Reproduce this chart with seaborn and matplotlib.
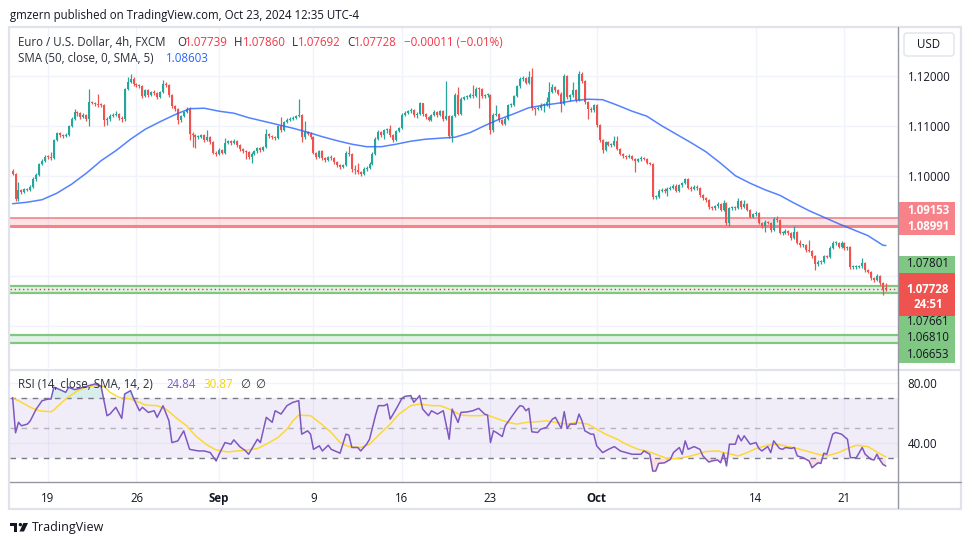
import numpy as np
import matplotlib
matplotlib.use("Agg")
import matplotlib.pyplot as plt
from matplotlib.patches import Rectangle, FancyBboxPatch, Polygon, Circle
import seaborn as sns

W, H = 970, 545

### EUR/USD 4h candles (FXCM), one per candle ###
first_open = 1.1010
closes = [
    1.1004, 1.0954, 1.0971, 1.0968, 1.0973, 1.0972, 1.0978, 1.0993, 1.1002, 1.1024,
    1.1030, 1.1038, 1.1037, 1.1035, 1.1072, 1.1085, 1.1081, 1.1079, 1.1082, 1.1099,
    1.1114, 1.1127, 1.1125, 1.1117, 1.1122, 1.1114, 1.1147, 1.1146, 1.1144, 1.1142,
    1.1141, 1.1111, 1.1113, 1.1120, 1.1122, 1.1124, 1.1116, 1.1113, 1.1174, 1.1187,
    1.1194, 1.1184, 1.1181, 1.1179, 1.1159, 1.1171, 1.1161, 1.1167, 1.1166, 1.1157,
    1.1167, 1.1184, 1.1181, 1.1161, 1.1139, 1.1133, 1.1111, 1.1119, 1.1127, 1.1134,
    1.1084, 1.1081, 1.1077, 1.1078, 1.1081, 1.1071, 1.1078, 1.1067, 1.1046, 1.1044,
    1.1052, 1.1046, 1.1066, 1.1069, 1.1066, 1.1069, 1.1061, 1.1054, 1.1049, 1.1047,
    1.1037, 1.1044, 1.1049, 1.1055, 1.1051, 1.1057, 1.1084, 1.1079, 1.1077, 1.1076,
    1.1099, 1.1091, 1.1107, 1.1112, 1.1114, 1.1116, 1.1119, 1.1121, 1.1077, 1.1087,
    1.1084, 1.1077, 1.1046, 1.1037, 1.1049, 1.1035, 1.1031, 1.1037, 1.1035, 1.1027,
    1.1021, 1.1017, 1.1021, 1.1046, 1.1044, 1.1014, 1.1011, 1.1007, 1.1004, 1.1014,
    1.1016, 1.1024, 1.1044, 1.1074, 1.1087, 1.1081, 1.1091, 1.1093, 1.1081, 1.1071,
    1.1089, 1.1095, 1.1122, 1.1126, 1.1129, 1.1132, 1.1122, 1.1124, 1.1145, 1.1124,
    1.1117, 1.1112, 1.1121, 1.1127, 1.1121, 1.1129, 1.1114, 1.1119, 1.1079, 1.1119,
    1.1162, 1.1124, 1.1154, 1.1157, 1.1157, 1.1162, 1.1159, 1.1174, 1.1173, 1.1159,
    1.1161, 1.1162, 1.1091, 1.1122, 1.1124, 1.1111, 1.1104, 1.1114, 1.1141, 1.1142,
    1.1159, 1.1179, 1.1194, 1.1195, 1.1186, 1.1197, 1.1135, 1.1134, 1.1135, 1.1142,
    1.1142, 1.1148, 1.1167, 1.1177, 1.1171, 1.1164, 1.1144, 1.1200, 1.1157, 1.1161,
    1.1171, 1.1151, 1.1204, 1.1189, 1.1147, 1.1134, 1.1131, 1.1141, 1.1101, 1.1071,
    1.1051, 1.1067, 1.1062, 1.1062, 1.1070, 1.1054, 1.1044, 1.1039, 1.1037, 1.1040,
    1.1034, 1.1029, 1.1033, 1.1036, 1.1034, 1.1026, 1.1024, 1.0957, 1.0957, 1.0970,
    1.0972, 1.0969, 1.0974, 1.0976, 1.0980, 1.0970, 1.0981, 1.0985, 1.0993, 1.0976,
    1.0973, 1.0978, 1.0975, 1.0961, 1.0955, 1.0951, 1.0937, 1.0935, 1.0939, 1.0944,
    1.0932, 1.0946, 1.0905, 1.0935, 1.0937, 1.0935, 1.0950, 1.0937, 1.0944, 1.0932,
    1.0918, 1.0923, 1.0926, 1.0906, 1.0899, 1.0908, 1.0906, 1.0891, 1.0913, 1.0911,
    1.0886, 1.0886, 1.0890, 1.0885, 1.0875, 1.0888, 1.0866, 1.0861, 1.0861, 1.0851,
    1.0850, 1.0839, 1.0823, 1.0828, 1.0828, 1.0839, 1.0838, 1.0856, 1.0866, 1.0866,
    1.0858, 1.0866, 1.0855, 1.0857, 1.0817, 1.0817, 1.0818, 1.0819, 1.0826, 1.0811,
    1.0808, 1.0795, 1.0791, 1.0800, 1.0785, 1.07739, 1.07728,
]
highs = [
    1.1013, 1.1006, 1.0987, 1.0974, 1.0976, 1.0976, 1.0981, 1.0997, 1.1005, 1.1026,
    1.1033, 1.1042, 1.1041, 1.1048, 1.1074, 1.1088, 1.1087, 1.1083, 1.1085, 1.1101,
    1.1117, 1.1133, 1.1130, 1.1127, 1.1125, 1.1124, 1.1174, 1.1150, 1.1148, 1.1164,
    1.1145, 1.1143, 1.1117, 1.1123, 1.1126, 1.1130, 1.1126, 1.1119, 1.1176, 1.1197,
    1.1203, 1.1197, 1.1186, 1.1184, 1.1181, 1.1174, 1.1173, 1.1170, 1.1172, 1.1168,
    1.1170, 1.1191, 1.1187, 1.1183, 1.1163, 1.1141, 1.1135, 1.1122, 1.1130, 1.1137,
    1.1137, 1.1088, 1.1084, 1.1081, 1.1084, 1.1083, 1.1091, 1.1080, 1.1069, 1.1049,
    1.1055, 1.1054, 1.1076, 1.1072, 1.1071, 1.1073, 1.1071, 1.1063, 1.1056, 1.1051,
    1.1049, 1.1047, 1.1052, 1.1058, 1.1058, 1.1060, 1.1094, 1.1086, 1.1081, 1.1080,
    1.1102, 1.1117, 1.1110, 1.1115, 1.1117, 1.1119, 1.1122, 1.1154, 1.1123, 1.1110,
    1.1090, 1.1087, 1.1079, 1.1048, 1.1052, 1.1051, 1.1037, 1.1040, 1.1041, 1.1037,
    1.1030, 1.1023, 1.1024, 1.1049, 1.1060, 1.1046, 1.1021, 1.1026, 1.1010, 1.1017,
    1.1020, 1.1027, 1.1047, 1.1077, 1.1091, 1.1089, 1.1094, 1.1096, 1.1101, 1.1083,
    1.1092, 1.1098, 1.1125, 1.1129, 1.1132, 1.1135, 1.1134, 1.1127, 1.1148, 1.1146,
    1.1126, 1.1119, 1.1124, 1.1131, 1.1130, 1.1132, 1.1131, 1.1189, 1.1121, 1.1122,
    1.1165, 1.1177, 1.1157, 1.1160, 1.1162, 1.1165, 1.1182, 1.1177, 1.1177, 1.1175,
    1.1164, 1.1165, 1.1164, 1.1125, 1.1141, 1.1126, 1.1114, 1.1117, 1.1144, 1.1145,
    1.1162, 1.1182, 1.1197, 1.1200, 1.1197, 1.1209, 1.1215, 1.1138, 1.1139, 1.1145,
    1.1146, 1.1158, 1.1188, 1.1184, 1.1180, 1.1174, 1.1167, 1.1203, 1.1202, 1.1164,
    1.1188, 1.1174, 1.1209, 1.1207, 1.1191, 1.1150, 1.1137, 1.1144, 1.1143, 1.1103,
    1.1074, 1.1070, 1.1069, 1.1065, 1.1080, 1.1080, 1.1056, 1.1046, 1.1041, 1.1043,
    1.1042, 1.1036, 1.1036, 1.1039, 1.1038, 1.1036, 1.1028, 1.1026, 1.0961, 1.0973,
    1.0975, 1.0975, 1.0977, 1.0979, 1.0983, 1.0983, 1.0984, 1.0988, 1.0996, 1.0995,
    1.0979, 1.0981, 1.0981, 1.0977, 1.0963, 1.0958, 1.0953, 1.0940, 1.0942, 1.0947,
    1.0946, 1.0952, 1.0948, 1.0938, 1.0940, 1.0940, 1.0955, 1.0952, 1.0951, 1.0946,
    1.0934, 1.0926, 1.0929, 1.0928, 1.0908, 1.0911, 1.0910, 1.0908, 1.0917, 1.0919,
    1.0913, 1.0890, 1.0893, 1.0892, 1.0887, 1.0899, 1.0890, 1.0871, 1.0864, 1.0863,
    1.0871, 1.0852, 1.0841, 1.0831, 1.0831, 1.0842, 1.0842, 1.0859, 1.0869, 1.0870,
    1.0868, 1.0870, 1.0868, 1.0860, 1.0859, 1.0821, 1.0821, 1.0822, 1.0836, 1.0828,
    1.0813, 1.0810, 1.0797, 1.0803, 1.0802, 1.0787, 1.07860,
]
lows = [
    1.1001, 1.0949, 1.0950, 1.0964, 1.0965, 1.0969, 1.0970, 1.0976, 1.0990, 1.1000,
    1.1022, 1.1028, 1.1034, 1.1032, 1.1034, 1.1070, 1.1078, 1.1075, 1.1077, 1.1080,
    1.1097, 1.1112, 1.1120, 1.1113, 1.1115, 1.1109, 1.1099, 1.1143, 1.1140, 1.1138,
    1.1137, 1.1100, 1.1102, 1.1110, 1.1118, 1.1119, 1.1112, 1.1108, 1.1110, 1.1172,
    1.1185, 1.1180, 1.1177, 1.1175, 1.1155, 1.1157, 1.1158, 1.1159, 1.1162, 1.1153,
    1.1155, 1.1165, 1.1177, 1.1158, 1.1136, 1.1129, 1.1104, 1.1108, 1.1117, 1.1125,
    1.1071, 1.1058, 1.1055, 1.1074, 1.1076, 1.1068, 1.1069, 1.1063, 1.1043, 1.1040,
    1.1042, 1.1043, 1.1044, 1.1063, 1.1062, 1.1064, 1.1058, 1.1050, 1.1045, 1.1034,
    1.1033, 1.1026, 1.1041, 1.1046, 1.1048, 1.1049, 1.1055, 1.1076, 1.1074, 1.1072,
    1.1074, 1.1088, 1.1089, 1.1105, 1.1110, 1.1112, 1.1114, 1.1117, 1.1067, 1.1074,
    1.1081, 1.1073, 1.1043, 1.1033, 1.1035, 1.1032, 1.1027, 1.1029, 1.1032, 1.1024,
    1.1018, 1.1014, 1.1015, 1.1019, 1.1040, 1.1008, 1.1004, 1.1003, 1.1000, 1.1002,
    1.1009, 1.1013, 1.1022, 1.1042, 1.1072, 1.1077, 1.1073, 1.1086, 1.1078, 1.1068,
    1.1070, 1.1087, 1.1093, 1.1119, 1.1123, 1.1126, 1.1118, 1.1116, 1.1122, 1.1120,
    1.1113, 1.1109, 1.1110, 1.1119, 1.1117, 1.1119, 1.1110, 1.1112, 1.1076, 1.1067,
    1.1117, 1.1121, 1.1122, 1.1151, 1.1154, 1.1155, 1.1155, 1.1157, 1.1136, 1.1155,
    1.1156, 1.1158, 1.1084, 1.1088, 1.1119, 1.1108, 1.1101, 1.1102, 1.1112, 1.1138,
    1.1139, 1.1157, 1.1176, 1.1190, 1.1183, 1.1184, 1.1132, 1.1121, 1.1131, 1.1132,
    1.1128, 1.1139, 1.1135, 1.1165, 1.1168, 1.1161, 1.1127, 1.1142, 1.1154, 1.1150,
    1.1158, 1.1148, 1.1149, 1.1186, 1.1144, 1.1114, 1.1127, 1.1128, 1.1098, 1.1068,
    1.1046, 1.1049, 1.1059, 1.1058, 1.1060, 1.1051, 1.1041, 1.1036, 1.1034, 1.1035,
    1.1031, 1.1008, 1.1027, 1.1030, 1.1031, 1.1023, 1.1021, 1.0954, 1.0953, 1.0955,
    1.0967, 1.0966, 1.0960, 1.0971, 1.0974, 1.0967, 1.0968, 1.0978, 1.0983, 1.0973,
    1.0970, 1.0971, 1.0972, 1.0958, 1.0952, 1.0948, 1.0934, 1.0932, 1.0932, 1.0936,
    1.0929, 1.0930, 1.0901, 1.0899, 1.0932, 1.0931, 1.0933, 1.0934, 1.0935, 1.0929,
    1.0915, 1.0916, 1.0920, 1.0903, 1.0896, 1.0888, 1.0903, 1.0888, 1.0889, 1.0907,
    1.0883, 1.0882, 1.0883, 1.0882, 1.0872, 1.0873, 1.0863, 1.0858, 1.0857, 1.0848,
    1.0847, 1.0836, 1.0811, 1.0820, 1.0824, 1.0826, 1.0835, 1.0836, 1.0854, 1.0862,
    1.0855, 1.0856, 1.0852, 1.0851, 1.0814, 1.0813, 1.0814, 1.0815, 1.0816, 1.0808,
    1.0805, 1.0792, 1.0788, 1.0789, 1.0782, 1.0762, 1.07692,
]

### SMA(50) line, read every 5 candles ###
sma_idx = list(range(0, 300, 5)) + [296]
sma_val = [
    1.0944, 1.0947, 1.0952, 1.0965, 1.0983, 1.1005, 1.1030, 1.1050, 1.1073, 1.1093,
    1.1108, 1.1122, 1.1134, 1.1135, 1.1129, 1.1125, 1.1116, 1.1109, 1.1102, 1.1095,
    1.1087, 1.1078, 1.1070, 1.1063, 1.1058, 1.1058, 1.1063, 1.1069, 1.1073, 1.1075,
    1.1077, 1.1086, 1.1100, 1.1113, 1.1124, 1.1136, 1.1141, 1.1145, 1.1150, 1.1153,
    1.1152, 1.1141, 1.1129, 1.1119, 1.1100, 1.1083, 1.1066, 1.1048, 1.1025, 1.1000,
    1.0985, 1.0972, 1.0961, 1.0945, 1.0930, 1.0917, 1.0904, 1.0892, 1.0880, 1.0861,
    1.08603,
]

rsi_idx = [
    0, 1, 2, 3, 5, 6, 8, 10, 12, 13, 14, 16, 18, 19, 21, 22, 24, 26, 28, 30,
    32, 33, 35, 37, 38, 40, 41, 43, 44, 46, 48, 49, 51, 53, 54, 56, 58, 60, 61, 63,
    65, 67, 69, 70, 72, 74, 75, 77, 79, 80, 83, 84, 86, 88, 89, 91, 93, 95, 97, 98,
    100, 101, 102, 104, 105, 107, 108, 111, 113, 114, 115, 117, 118, 120, 121, 123, 124, 126, 127, 128,
    130, 132, 133, 135, 136, 138, 139, 141, 142, 144, 146, 148, 149, 151, 152, 154, 156, 158, 160, 161,
    162, 163, 164, 166, 167, 169, 171, 172, 173, 174, 175, 176, 178, 179, 181, 183, 184, 186, 187, 188,
    189, 191, 192, 193, 194, 196, 197, 198, 200, 202, 204, 206, 208, 210, 213, 214, 216, 217, 218, 219,
    221, 223, 224, 226, 227, 228, 229, 231, 233, 234, 236, 237, 239, 240, 241, 242, 243, 245, 246, 247,
    248, 250, 252, 253, 254, 256, 257, 258, 260, 261, 262, 264, 265, 266, 268, 270, 271, 273, 274, 275,
    276, 278, 279, 281, 283, 284, 286, 288, 289, 291, 292, 293, 294, 295, 296,
]
rsi_val = [
    70.5, 47.0, 54.0, 51.7, 52.8, 55.0, 62.8, 68.4, 69.5, 69.5, 77.4, 75.8, 74.0, 77.4, 75.8, 76.3, 77.4, 78.5, 79.6, 78.0,
    58.4, 59.5, 64.0, 56.6, 72.9, 75.1, 70.0, 61.7, 64.0, 60.6, 61.7, 57.3, 65.0, 55.0, 40.5, 41.6, 48.3, 36.0, 35.6, 34.9,
    34.9, 33.8, 28.2, 32.7, 40.5, 39.4, 42.3, 37.8, 34.9, 32.7, 42.7, 40.5, 57.3, 54.0, 61.7, 59.5, 65.1, 67.3, 68.4, 46.1,
    48.3, 46.1, 36.0, 38.3, 34.9, 38.7, 36.0, 33.4, 46.1, 45.4, 37.2, 37.2, 34.9, 39.4, 42.7, 58.4, 65.1, 65.1, 66.2, 56.1,
    62.8, 70.0, 71.3, 71.8, 67.3, 71.8, 62.8, 58.4, 61.7, 59.5, 61.7, 42.7, 62.8, 53.9, 60.6, 60.9, 61.7, 63.3, 59.5, 58.8,
    40.5, 48.3, 47.2, 44.5, 51.7, 57.3, 62.8, 65.1, 64.6, 61.7, 63.3, 47.7, 47.2, 49.4, 50.6, 56.1, 57.3, 49.9, 61.1, 49.9,
    52.8, 52.8, 59.5, 55.0, 48.3, 46.1, 46.1, 38.3, 33.8, 36.0, 37.8, 34.9, 33.8, 32.7, 32.7, 34.9, 32.7, 21.5, 21.5, 26.6,
    27.0, 29.3, 33.8, 37.2, 32.7, 41.6, 36.0, 37.8, 36.0, 31.6, 27.5, 28.2, 28.9, 27.0, 33.4, 24.9, 39.4, 39.4, 45.4, 41.6,
    45.0, 39.4, 40.5, 36.5, 34.9, 37.8, 33.8, 41.6, 36.5, 36.0, 37.2, 36.6, 37.2, 31.6, 30.4, 28.2, 23.7, 27.0, 26.6, 33.4,
    32.7, 46.1, 47.2, 46.1, 42.7, 30.4, 30.4, 37.2, 32.7, 29.3, 28.9, 32.7, 28.9, 26.0, 24.84,
]
rsi_ma_idx = [
    0, 2, 6, 9, 13, 14, 18, 22, 25, 28, 31, 33, 36, 40, 43, 45, 49, 52, 56, 59,
    62, 66, 69, 73, 76, 79, 83, 86, 90, 93, 95, 97, 101, 104, 108, 111, 114, 118, 121, 125,
    128, 131, 135, 138, 142, 145, 148, 152, 155, 158, 161, 164, 168, 171, 174, 178, 181, 184, 188, 191,
    195, 198, 201, 205, 208, 212, 215, 218, 222, 225, 229, 232, 235, 239, 242, 246, 249, 252, 256, 259,
    263, 266, 269, 273, 276, 280, 283, 286, 290, 293, 296,
]
rsi_ma_val = [
    70.0, 68.4, 64.0, 61.7, 61.0, 62.3, 69.6, 75.0, 77.4, 78.5, 78.0, 74.0, 70.7, 69.5, 67.3, 65.5, 65.1, 62.8, 56.1, 51.7,
    45.0, 38.7, 35.6, 34.2, 34.9, 35.4, 36.5, 39.4, 43.9, 49.4, 55.0, 58.8, 58.4, 53.9, 47.2, 40.5, 37.8, 37.2, 39.4, 47.2,
    52.8, 59.5, 65.1, 66.2, 65.1, 65.1, 62.8, 58.8, 58.4, 58.4, 58.8, 56.6, 53.9, 52.8, 53.9, 54.4, 55.0, 53.9, 52.8, 53.9,
    52.8, 49.4, 46.1, 42.7, 39.4, 36.0, 34.9, 32.7, 29.8, 29.8, 31.1, 32.7, 34.5, 34.9, 33.4, 31.6, 33.8, 36.5, 38.7, 39.4,
    37.8, 36.5, 34.9, 32.7, 31.6, 33.8, 36.5, 38.7, 37.8, 34.2, 30.87,
]

### time axis: candle number of each date label ###
date_idx = [12, 42, 70, 102, 132, 162, 198, 252, 282]
date_lbl = ["19", "26", "Sep", "9", "16", "23", "Oct", "14", "21"]

### horizontal levels drawn on the chart ###
red_zone = (1.08991, 1.09153)
green_zone1 = (1.07661, 1.07801)
green_zone2 = (1.06653, 1.06810)
last_price = 1.07728
sma_last = 1.08603
rsi_last, rsi_ma_last = 24.84, 30.87

UP, DN = "#26a69a", "#ef5350"
TXT = "#131722"
LEG = "#2a2e39"
RED_T = "#f23645"
GRN_L = "#81c784"
PINK_L = "#f7828a"

sns.set_style("white")
plt.rcParams['font.family'] = ['Open Sans', 'DejaVu Sans']

fig = plt.figure(figsize=(9.7, 5.45), dpi=100)


def px_axes(x0, y0, x1, y1):
    # axes placed by pixel box (top-left origin)
    return fig.add_axes([x0 / W, 1 - y1 / H, (x1 - x0) / W, (y1 - y0) / H])


ax = px_axes(10, 28, 898, 368)
ax_rsi = px_axes(10, 370, 898, 482)

######## price pane ########
o = np.array([first_open] + closes[:-1])
c = np.array(closes)
hi = np.maximum(np.array(highs), np.maximum(o, c))
lo = np.minimum(np.array(lows), np.minimum(o, c))
x = np.arange(len(c))
col = np.where(c >= o, UP, DN)

ax.axhspan(*red_zone, color=PINK_L, alpha=0.22, lw=0, zorder=1)
ax.axhline(red_zone[1], color=PINK_L, lw=1.2, zorder=1.5)
ax.axhline(red_zone[0], color=PINK_L, lw=2.2, zorder=1.5)
for z in (green_zone1, green_zone2):
    ax.axhspan(*z, color=GRN_L, alpha=0.22, lw=0, zorder=1)
    ax.axhline(z[0], color=GRN_L, lw=1.6, zorder=1.5)
    ax.axhline(z[1], color=GRN_L, lw=1.6, zorder=1.5)

ax.vlines(x, lo, hi, colors=col, lw=0.9, zorder=3)
ax.bar(x, np.maximum(np.abs(c - o), 0.00018), bottom=np.minimum(o, c),
       width=0.68, color=col, linewidth=0, zorder=3)

sns.lineplot(x=sma_idx, y=sma_val, ax=ax, color="#2962ff", lw=1.1, alpha=0.8, zorder=4)
ax.axhline(last_price, color=RED_T, ls=(0, (1, 2)), lw=1, zorder=5)

ax.set_xlim(-0.88, 300.14)
ax.set_ylim(1.06154, 1.12954)
ax.set_yticks([1.07, 1.08, 1.09, 1.10, 1.11, 1.12])
ax.set_yticklabels(["", "", "", "1.10000", "1.11000", "1.12000"])
ax.set_xticks(date_idx)
ax.tick_params(axis='x', length=0, labelbottom=False)
ax.tick_params(axis='y', length=0, left=False, labelleft=False, right=False,
               labelright=True, pad=7.5, labelsize=8.3, labelcolor=TXT)
ax.grid(True, color="#f0f3fa", lw=1)
ax.set_xlabel("")
ax.set_ylabel("")
for s in ax.spines.values():
    s.set_visible(False)

######## RSI pane ########
ax_rsi.axhspan(30, 70, color="#7e57c2", alpha=0.1, lw=0)
ax_rsi.axhline(70, color="#787b86", ls=(0, (4, 4)), lw=1)
ax_rsi.axhline(50, color="#787b86", ls=(0, (4, 4)), lw=1, alpha=0.5)
ax_rsi.axhline(30, color="#787b86", ls=(0, (4, 4)), lw=1)
ri = np.array(rsi_idx, dtype=float)
rv = np.array(rsi_val)
ax_rsi.fill_between(ri, 70, rv, where=rv > 70, interpolate=True, color="#26a69a", alpha=0.18, lw=0)
ax_rsi.fill_between(ri, 30, rv, where=rv < 30, interpolate=True, color="#ef5350", alpha=0.18, lw=0)
sns.lineplot(x=rsi_ma_idx, y=rsi_ma_val, ax=ax_rsi, color="#fdd835", lw=1.1)
sns.lineplot(x=rsi_idx, y=rsi_val, ax=ax_rsi, color="#7e57c2", lw=1.1)

ax_rsi.set_xlim(-0.88, 300.14)
ax_rsi.set_ylim(14.2, 88.87)
ax_rsi.set_yticks([40, 80])
ax_rsi.set_yticklabels(["40.00", "80.00"])
ax_rsi.set_xticks(date_idx)
ax_rsi.set_xticklabels(date_lbl)
for t, lbl in zip(ax_rsi.get_xticklabels(), date_lbl):
    if lbl in ("Sep", "Oct"):
        t.set_fontweight("bold")
ax_rsi.tick_params(axis='x', length=0, pad=7, labelsize=8.3, labelcolor=TXT)
ax_rsi.tick_params(axis='y', length=0, left=False, labelleft=False, right=False,
                   labelright=True, pad=7, labelsize=8.3, labelcolor=TXT)
ax_rsi.grid(True, color="#f0f3fa", lw=1)
ax_rsi.set_xlabel("")
ax_rsi.set_ylabel("")
for s in ax_rsi.spines.values():
    s.set_visible(False)

######## overlay: frame, legends, price tags ########
ov = fig.add_axes([0, 0, 1, 1], zorder=10)
ov.set_xlim(0, W)
ov.set_ylim(H, 0)
ov.axis('off')

ov.add_patch(Rectangle((9.5, 27), 951.5, 481.5, fill=False, ec="#e0e3eb", lw=1.6))
ov.plot([10, 961], [369.5, 369.5], color="#e0e3eb", lw=1.5)
ov.plot([898, 898], [27, 508], color="#9598a1", lw=1)
ov.plot([10, 961], [482, 482], color="#9598a1", lw=1)

ov.text(10, 15, "gmzern published on TradingView.com, Oct 23, 2024 12:35 UTC-4",
        fontsize=8.3, color=TXT, va="center")

# legend rows (last candle O/H/L/C)
chg = c[-1] - c[-2]
row1 = [(18, "Euro / U.S. Dollar, 4h, FXCM", LEG),
        (177, "O", LEG), (185, f"{o[-1]:.5f}", RED_T),
        (234, "H", LEG), (243, f"{hi[-1]:.5f}", RED_T),
        (292, "L", LEG), (298, f"{lo[-1]:.5f}", RED_T),
        (347, "C", LEG), (354, f"{c[-1]:.5f}", RED_T),
        (404, f"\u2212{abs(chg):.5f} (\u2212{abs(chg) / c[-2] * 100:.2f}%)", RED_T)]
for px, s, cc in row1:
    ov.text(px, 42, s, fontsize=8.3, color=cc, va="center")
ov.text(18, 59, "SMA (50, close, 0, SMA, 5)", fontsize=8.3, color=LEG, va="center")
ov.text(166, 59, f"{sma_last:.5f}", fontsize=8.3, color="#2962ff", va="center")
ov.text(18, 385, "RSI (14, close, SMA, 14, 2)", fontsize=8.3, color=LEG, va="center")
ov.text(166, 385, f"{rsi_last:.2f}", fontsize=8.3, color="#7e57c2", va="center")
ov.text(203, 385, f"{rsi_ma_last:.2f}", fontsize=8.3, color="#f5d300", va="center")
ov.text(240, 385, "\u2205", fontsize=8.3, color=LEG, va="center")
ov.text(255, 385, "\u2205", fontsize=8.3, color=LEG, va="center")

# USD button
ov.add_patch(FancyBboxPatch((904, 33), 50, 23, boxstyle="round,pad=0,rounding_size=3",
                            fc="white", ec="#e0e3eb", lw=1))
ov.text(929, 44.5, "USD", fontsize=8.3, color=TXT, ha="center", va="center")

# price tags on the scale (stacked like TradingView does)
tag_boxes = [(202, 235, PINK_L), (256, 273, GRN_L), (273, 316, "#ef5350"), (316, 363, GRN_L)]
for y0, y1, fc in tag_boxes:
    ov.add_patch(Rectangle((898.5, y0), 57, y1 - y0, fc=fc, ec="none"))
tag_text = [
    (210.3, f"{red_zone[1]:.5f}", "white", "bold"),
    (227.0, f"{red_zone[0]:.5f}", "white", "bold"),
    (263.3, f"{green_zone1[1]:.5f}", TXT, "normal"),
    (289.3, f"{last_price:.5f}", "white", "bold"),
    (305.0, "24:51", "white", "bold"),
    (321.7, f"{green_zone1[0]:.5f}", TXT, "normal"),
    (337.3, f"{green_zone2[1]:.5f}", TXT, "normal"),
    (355.0, f"{green_zone2[0]:.5f}", TXT, "normal"),
]
for py, s, cc, fw in tag_text:
    ov.text(928, py, s, fontsize=8.3, color=cc, fontweight=fw, ha="center", va="center")

# TradingView logo
ov.add_patch(Polygon([(10, 523), (17.5, 523), (17.5, 531.5), (14.3, 531.5), (14.3, 526.2), (10, 526.2)],
                     closed=True, fc=TXT, ec="none"))
ov.add_patch(Circle((20.4, 524.6), 1.7, fc=TXT, ec="none"))
ov.add_patch(Polygon([(23.3, 523), (28, 523), (24, 531.5), (19.5, 531.5)], closed=True, fc=TXT, ec="none"))
ov.text(32, 527, "TradingView", fontsize=9, color=TXT, va="center")

fig.savefig("out.png", dpi=100, facecolor="white")
